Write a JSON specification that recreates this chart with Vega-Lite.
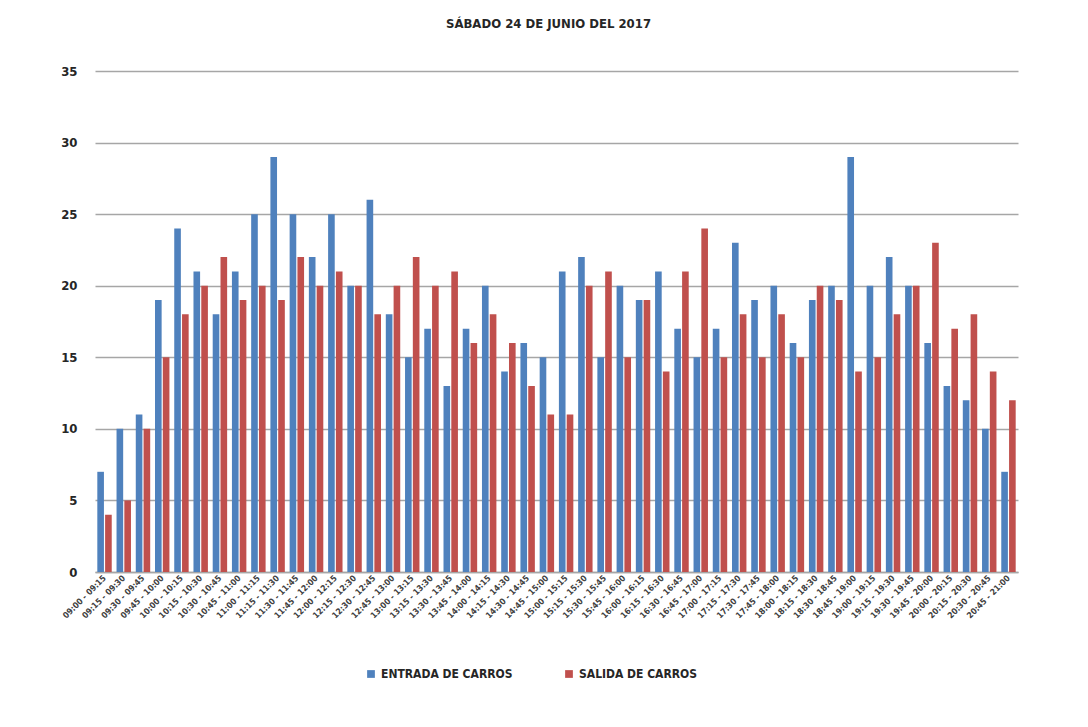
{
  "$schema": "https://vega.github.io/schema/vega-lite/v6.json",
  "autosize": {"type": "none"},
  "width": 923,
  "height": 501,
  "padding": {"left": 95, "top": 71, "right": 70, "bottom": 155},
  "background": "white",
  "title": {
    "text": "SÁBADO 24 DE JUNIO DEL 2017",
    "font": "Liberation Sans Narrow, DejaVu Sans Condensed, sans-serif",
    "fontSize": 13,
    "fontWeight": "bold",
    "color": "#262626",
    "offset": 34,
    "anchor": "middle",
    "dx": -8
  },
  "config": {
    "view": {"stroke": null},
    "font": "Liberation Sans Narrow, DejaVu Sans Condensed, sans-serif"
  },
  "data": {
    "values": [
      {"franja": "09:00 - 09:15", "ENTRADA DE CARROS": 7, "SALIDA DE CARROS": 4},
      {"franja": "09:15 - 09:30", "ENTRADA DE CARROS": 10, "SALIDA DE CARROS": 5},
      {"franja": "09:30 - 09:45", "ENTRADA DE CARROS": 11, "SALIDA DE CARROS": 10},
      {"franja": "09:45 - 10:00", "ENTRADA DE CARROS": 19, "SALIDA DE CARROS": 15},
      {"franja": "10:00 - 10:15", "ENTRADA DE CARROS": 24, "SALIDA DE CARROS": 18},
      {"franja": "10:15 - 10:30", "ENTRADA DE CARROS": 21, "SALIDA DE CARROS": 20},
      {"franja": "10:30 - 10:45", "ENTRADA DE CARROS": 18, "SALIDA DE CARROS": 22},
      {"franja": "10:45 - 11:00", "ENTRADA DE CARROS": 21, "SALIDA DE CARROS": 19},
      {"franja": "11:00 - 11:15", "ENTRADA DE CARROS": 25, "SALIDA DE CARROS": 20},
      {"franja": "11:15 - 11:30", "ENTRADA DE CARROS": 29, "SALIDA DE CARROS": 19},
      {"franja": "11:30 - 11:45", "ENTRADA DE CARROS": 25, "SALIDA DE CARROS": 22},
      {"franja": "11:45 - 12:00", "ENTRADA DE CARROS": 22, "SALIDA DE CARROS": 20},
      {"franja": "12:00 - 12:15", "ENTRADA DE CARROS": 25, "SALIDA DE CARROS": 21},
      {"franja": "12:15 - 12:30", "ENTRADA DE CARROS": 20, "SALIDA DE CARROS": 20},
      {"franja": "12:30 - 12:45", "ENTRADA DE CARROS": 26, "SALIDA DE CARROS": 18},
      {"franja": "12:45 - 13:00", "ENTRADA DE CARROS": 18, "SALIDA DE CARROS": 20},
      {"franja": "13:00 - 13:15", "ENTRADA DE CARROS": 15, "SALIDA DE CARROS": 22},
      {"franja": "13:15 - 13:30", "ENTRADA DE CARROS": 17, "SALIDA DE CARROS": 20},
      {"franja": "13:30 - 13:45", "ENTRADA DE CARROS": 13, "SALIDA DE CARROS": 21},
      {"franja": "13:45 - 14:00", "ENTRADA DE CARROS": 17, "SALIDA DE CARROS": 16},
      {"franja": "14:00 - 14:15", "ENTRADA DE CARROS": 20, "SALIDA DE CARROS": 18},
      {"franja": "14:15 - 14:30", "ENTRADA DE CARROS": 14, "SALIDA DE CARROS": 16},
      {"franja": "14:30 - 14:45", "ENTRADA DE CARROS": 16, "SALIDA DE CARROS": 13},
      {"franja": "14:45 - 15:00", "ENTRADA DE CARROS": 15, "SALIDA DE CARROS": 11},
      {"franja": "15:00 - 15:15", "ENTRADA DE CARROS": 21, "SALIDA DE CARROS": 11},
      {"franja": "15:15 - 15:30", "ENTRADA DE CARROS": 22, "SALIDA DE CARROS": 20},
      {"franja": "15:30 - 15:45", "ENTRADA DE CARROS": 15, "SALIDA DE CARROS": 21},
      {"franja": "15:45 - 16:00", "ENTRADA DE CARROS": 20, "SALIDA DE CARROS": 15},
      {"franja": "16:00 - 16:15", "ENTRADA DE CARROS": 19, "SALIDA DE CARROS": 19},
      {"franja": "16:15 - 16:30", "ENTRADA DE CARROS": 21, "SALIDA DE CARROS": 14},
      {"franja": "16:30 - 16:45", "ENTRADA DE CARROS": 17, "SALIDA DE CARROS": 21},
      {"franja": "16:45 - 17:00", "ENTRADA DE CARROS": 15, "SALIDA DE CARROS": 24},
      {"franja": "17:00 - 17:15", "ENTRADA DE CARROS": 17, "SALIDA DE CARROS": 15},
      {"franja": "17:15 - 17:30", "ENTRADA DE CARROS": 23, "SALIDA DE CARROS": 18},
      {"franja": "17:30 - 17:45", "ENTRADA DE CARROS": 19, "SALIDA DE CARROS": 15},
      {"franja": "17:45 - 18:00", "ENTRADA DE CARROS": 20, "SALIDA DE CARROS": 18},
      {"franja": "18:00 - 18:15", "ENTRADA DE CARROS": 16, "SALIDA DE CARROS": 15},
      {"franja": "18:15 - 18:30", "ENTRADA DE CARROS": 19, "SALIDA DE CARROS": 20},
      {"franja": "18:30 - 18:45", "ENTRADA DE CARROS": 20, "SALIDA DE CARROS": 19},
      {"franja": "18:45 - 19:00", "ENTRADA DE CARROS": 29, "SALIDA DE CARROS": 14},
      {"franja": "19:00 - 19:15", "ENTRADA DE CARROS": 20, "SALIDA DE CARROS": 15},
      {"franja": "19:15 - 19:30", "ENTRADA DE CARROS": 22, "SALIDA DE CARROS": 18},
      {"franja": "19:30 - 19:45", "ENTRADA DE CARROS": 20, "SALIDA DE CARROS": 20},
      {"franja": "19:45 - 20:00", "ENTRADA DE CARROS": 16, "SALIDA DE CARROS": 23},
      {"franja": "20:00 - 20:15", "ENTRADA DE CARROS": 13, "SALIDA DE CARROS": 17},
      {"franja": "20:15 - 20:30", "ENTRADA DE CARROS": 12, "SALIDA DE CARROS": 18},
      {"franja": "20:30 - 20:45", "ENTRADA DE CARROS": 10, "SALIDA DE CARROS": 14},
      {"franja": "20:45 - 21:00", "ENTRADA DE CARROS": 7, "SALIDA DE CARROS": 12}
    ]
  },
  "transform": [
    {"fold": ["ENTRADA DE CARROS", "SALIDA DE CARROS"], "as": ["serie", "carros"]}
  ],
  "mark": {"type": "bar"},
  "encoding": {
    "x": {
      "field": "franja",
      "type": "nominal",
      "sort": null,
      "scale": {"paddingInner": 0.25, "paddingOuter": 0.12},
      "axis": {
        "title": null,
        "labelAngle": -45,
        "labelAlign": "right",
        "labelBaseline": "middle",
        "labelFontSize": 8.5,
        "labelFontWeight": "bold",
        "labelColor": "#404040",
        "labelPadding": 4,
        "ticks": false,
        "domainColor": "#A6A6A6",
        "domainWidth": 1.5,
        "labelOverlap": false
      }
    },
    "xOffset": {
      "field": "serie",
      "type": "nominal",
      "sort": ["ENTRADA DE CARROS", "SALIDA DE CARROS"],
      "scale": {"paddingInner": 0.15}
    },
    "y": {
      "field": "carros",
      "type": "quantitative",
      "scale": {"domain": [0, 35]},
      "axis": {
        "title": null,
        "values": [0, 5, 10, 15, 20, 25, 30, 35],
        "domain": false,
        "ticks": false,
        "gridColor": "#A6A6A6",
        "gridWidth": 1.5,
        "labelFontSize": 13,
        "labelFontWeight": "bold",
        "labelColor": "#262626",
        "labelPadding": 18
      }
    },
    "color": {
      "field": "serie",
      "type": "nominal",
      "scale": {"domain": ["ENTRADA DE CARROS", "SALIDA DE CARROS"], "range": ["#4F81BD", "#C0504D"]},
      "legend": {
        "title": null,
        "orient": "none",
        "legendX": 270,
        "legendY": 597,
        "direction": "horizontal",
        "symbolType": "square",
        "symbolSize": 60,
        "labelFontSize": 12,
        "labelFontWeight": "bold",
        "labelColor": "#262626",
        "columnPadding": 50
      }
    }
  }
}
